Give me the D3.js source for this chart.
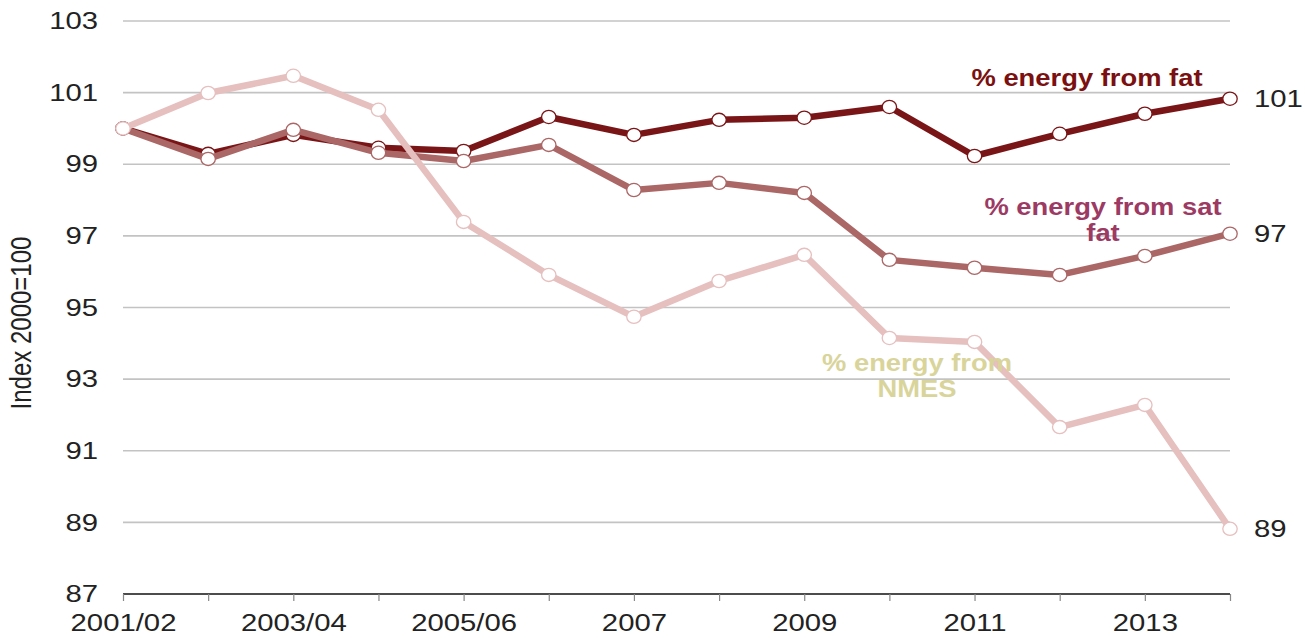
<!DOCTYPE html>
<html>
<head>
<meta charset="utf-8">
<script src="https://cdn.jsdelivr.net/npm/d3@7"></script>
<style>
  html, body { margin: 0; padding: 0; background: #fff; }
  svg { display: block; font-family: "Liberation Sans", Arial, sans-serif; }
</style>
</head>
<body>
<svg id="chart" width="1305" height="638"></svg>
<script>
// Survey years on the x axis
const years = ["2001/02", "2002/03", "2003/04", "2004/05", "2005/06", "2006", "2007",
               "2008", "2009", "2010", "2011", "2012", "2013", "2014"];
const yearLabels = ["2001/02", "2003/04", "2005/06", "2007", "2009", "2011", "2013"];

// Index values, 2000 = 100
const fatValues = [100.0, 99.29, 99.82, 99.46, 99.37, 100.32, 99.82, 100.24, 100.30, 100.60, 99.23, 99.85, 100.41, 100.83];
const satFatValues = [100.0, 99.15, 99.96, 99.32, 99.09, 99.54, 98.28, 98.48, 98.20, 96.33, 96.11, 95.91, 96.44, 97.06];
const nmesValues = [100.0, 100.99, 101.47, 100.52, 97.39, 95.91, 94.74, 95.74, 96.47, 94.15, 94.04, 91.66, 92.28, 88.82];

const yTicks = [87, 89, 91, 93, 95, 97, 99, 101, 103];

// Drawn bottom to top: fat, sat fat, then NMES over both
const seriesList = [
  { key: "fat",    values: fatValues,    color: "#7a1517" },
  { key: "satfat", values: satFatValues, color: "#ab6666" },
  { key: "nmes",   values: nmesValues,   color: "#e6bfbf" }
];

const svg = d3.select("#chart");
const plotLeft = 123, plotRight = 1230, plotTop = 21, plotBottom = 594;
const wide = 1.22;   // horizontal widening of the lettering

const x = d3.scalePoint().domain(years).range([plotLeft, plotRight]);
const y = d3.scaleLinear().domain([87, 103]).range([plotBottom, plotTop]);

// Widen text about its own anchor point
function widen(sel, k) {
  sel.each(function () {
    const t = d3.select(this);
    const tx = +t.attr("x") || 0;
    t.attr("x", tx / k).attr("transform", `scale(${k},1)`);
  });
}

// Horizontal gridlines
svg.append("g")
  .selectAll("line")
  .data(yTicks.filter(t => t !== 87))
  .join("line")
  .attr("x1", plotLeft).attr("x2", plotRight)
  .attr("y1", d => y(d)).attr("y2", d => y(d))
  .attr("stroke", "#c3c3c3").attr("stroke-width", 1.6);

// Y axis labels
const yAxis = d3.axisLeft(y).tickValues(yTicks).tickSize(0).tickPadding(25);
const gy = svg.append("g").attr("transform", `translate(${plotLeft},0)`).call(yAxis);
gy.select(".domain").remove();
gy.selectAll("text")
  .attr("font-size", 24).attr("fill", "#222")
  .attr("font-family", "Liberation Sans, Arial, sans-serif")
  .call(widen, wide);

// X axis with a tick at every year, label at every other year
const xAxis = d3.axisBottom(x).tickSize(7).tickPadding(13)
  .tickFormat(d => yearLabels.includes(d) ? d : "");
const gx = svg.append("g").attr("transform", `translate(0,${plotBottom})`).call(xAxis);
gx.select(".domain").attr("stroke", "#111").attr("stroke-width", 1.6)
  .attr("d", `M${plotLeft},0H${plotRight}`);
gx.selectAll(".tick line").attr("stroke", "#888").attr("stroke-width", 1.2);
gx.selectAll("text")
  .attr("font-size", 24).attr("fill", "#222")
  .attr("font-family", "Liberation Sans, Arial, sans-serif")
  .call(widen, wide);

// Y axis title
svg.append("text")
  .attr("transform", `translate(31,323) rotate(-90) scale(1,${wide})`)
  .attr("text-anchor", "middle")
  .attr("font-size", 24).attr("fill", "#222")
  .text("Index 2000=100");

// Lines and markers
const line = d3.line().x((d, i) => x(years[i])).y(d => y(d));

seriesList.forEach(s => {
  const g = svg.append("g");
  g.append("path")
    .datum(s.values)
    .attr("d", line)
    .attr("fill", "none")
    .attr("stroke", s.color)
    .attr("stroke-width", 6.5)
    .attr("stroke-linejoin", "round");
  g.selectAll("ellipse")
    .data(s.values)
    .join("ellipse")
    .attr("cx", (d, i) => x(years[i]))
    .attr("cy", d => y(d))
    .attr("rx", 7.2)
    .attr("ry", 6.6)
    .attr("fill", "#fff")
    .attr("stroke", s.color)
    .attr("stroke-width", 1.3);
});

// End value labels
seriesList.forEach(s => {
  const last = s.values[s.values.length - 1];
  svg.append("text")
    .attr("transform", `translate(${plotRight + 24},${y(last)}) scale(${wide},1)`)
    .attr("dy", "0.36em")
    .attr("font-size", 24).attr("fill", "#222")
    .text(Math.round(last));
});

// Series name labels
const seriesNames = [
  { lines: ["% energy from fat"], x: 1087, y: 86, color: "#7b1010" },
  { lines: ["% energy from sat", "fat"], x: 1103, y: 215, color: "#9c3a64" },
  { lines: ["% energy from", "NMES"], x: 917, y: 371, color: "#d9d49a" }
];
seriesNames.forEach(n => {
  const t = svg.append("text")
    .attr("transform", `translate(${n.x},0) scale(1.19,1)`)
    .attr("text-anchor", "middle")
    .attr("font-size", 23).attr("font-weight", "bold")
    .attr("fill", n.color);
  n.lines.forEach((l, i) => {
    t.append("tspan").attr("x", 0).attr("y", n.y + i * 26.5).text(l);
  });
});
</script>
</body>
</html>
